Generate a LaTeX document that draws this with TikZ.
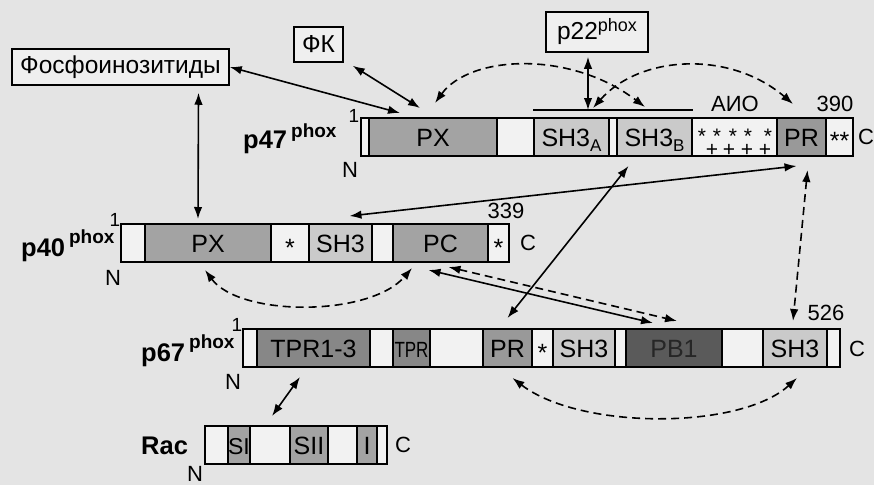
\documentclass[tikz,border=0pt]{standalone}
\usepackage{fontspec}
\setmainfont{Liberation Sans}
\usetikzlibrary{arrows.meta,calc}
\definecolor{bgc}{HTML}{E4E4E4}
\definecolor{wseg}{HTML}{F2F2F2}
\definecolor{boxc}{HTML}{EFEFEF}
\definecolor{gmid}{HTML}{A3A3A3}
\definecolor{glight}{HTML}{CACACA}
\definecolor{gpr}{HTML}{999999}
\definecolor{gdark}{HTML}{878787}
\definecolor{gpb}{HTML}{5A5A5A}
\newcommand\dfont{\fontsize{25}{25}\selectfont}
\newcommand\subf{\fontsize{17}{17}\selectfont}
\tikzset{
  seg/.style={draw, line width=1.3pt, inner sep=0pt, outer sep=0pt, minimum height=38pt,
    anchor=west, font=\dfont, text height=18pt, text depth=0pt},
  wbox/.style={draw, line width=1.5pt, fill=boxc, inner sep=0pt, font=\fontsize{24.5}{24.5}\selectfont},
  lab/.style={inner sep=0pt, anchor=base west, font=\bfseries\fontsize{25.5}{25.5}\selectfont},
  num/.style={inner sep=0pt, font=\fontsize{22}{22}\selectfont},
  one/.style={inner sep=0pt, font=\fontsize{19}{19}\selectfont},
  frame/.style={line width=2pt},
  conn/.style={line width=1.6pt, {Latex[length=12pt,width=8.5pt]}-{Latex[length=12pt,width=8.5pt]}},
  dconn/.style={conn, dash pattern=on 8pt off 5pt}
}
\begin{document}
\begin{tikzpicture}[x=1pt,y=-1pt]
\fill[bgc] (0,0) rectangle (874,485);
\useasboundingbox (0,0) rectangle (874,485);

% boxes
\node[wbox, minimum width=217pt, minimum height=36pt] (phos) at (120.5,67) {Фосфоинозитиды};
\node[wbox, minimum width=49pt, minimum height=35pt] (fk) at (318.5,44.5) {ФК};
\node[wbox, minimum width=102pt, minimum height=40pt] (p22) at (597,32) {p22\raisebox{8pt}{\fontsize{18}{18}\selectfont phox}};

% p47
\node[seg, minimum width=8pt, fill=wseg] (p47a) at (361,137) {};
\node[seg, minimum width=128pt, fill=gmid] (p47px) at (369,137) {PX};
\node[seg, minimum width=37pt, fill=wseg] (p47b) at (497,137) {};
\node[seg, minimum width=75pt, fill=glight] (p47sa) at (534,137) {SH3\raisebox{-5pt}{\subf A}};
\node[seg, minimum width=8pt, fill=wseg] (p47g) at (609,137) {};
\node[seg, minimum width=75pt, fill=glight] (p47sb) at (617,137) {SH3\raisebox{-5pt}{\subf B}};
\node[seg, minimum width=85pt, fill=wseg] (p47aio) at (692,137) {};
\node[seg, minimum width=49pt, fill=gpr] (p47pr) at (777,137) {PR};
\node[seg, minimum width=27pt, fill=wseg] (p47c) at (826,137) {\raisebox{-3pt}{**}};
\draw[frame] (p47a.north west) rectangle (p47c.south east);
\foreach \x [count=\i] in {702,717,733,748,768}
  \node[inner sep=0pt, font=\fontsize{21}{21}\selectfont] (ast\i) at (\x,133) {\raisebox{-6pt}[8pt][0pt]{*}};
\foreach \x [count=\i] in {712,729,747,765}
  \node[inner sep=0pt, font=\fontsize{21}{21}\selectfont] (pl\i) at (\x,150) {+};

% p40
\node[seg, minimum width=24pt, fill=wseg] (p40a) at (121,243) {};
\node[seg, minimum width=126pt, fill=gmid] (p40px) at (145,243) {PX};
\node[seg, minimum width=38pt, fill=wseg] (p40s) at (271,243) {\raisebox{-4pt}{*}};
\node[seg, minimum width=63pt, fill=glight] (p40sh3) at (309,243) {SH3};
\node[seg, minimum width=21pt, fill=wseg] (p40b) at (372,243) {};
\node[seg, minimum width=95pt, fill=gmid] (p40pc) at (393,243) {PC};
\node[seg, minimum width=21pt, fill=wseg] (p40c) at (488,243) {\raisebox{-4pt}{*}};
\draw[frame] (p40a.north west) rectangle (p40c.south east);

% p67
\node[seg, minimum width=14pt, fill=wseg] (p67a) at (243,348) {};
\node[seg, minimum width=113pt, fill=gdark] (p67tpr) at (257,348) {TPR1-3};
\node[seg, minimum width=23pt, fill=wseg] (p67b) at (370,348) {};
\node[seg, minimum width=37pt, fill=gdark] (p67tp) at (393,348) {\scalebox{0.68}[0.88]{TPR}};
\node[seg, minimum width=53pt, fill=wseg] (p67c) at (430,348) {};
\node[seg, minimum width=49pt, fill=gpr] (p67pr) at (483,348) {PR};
\node[seg, minimum width=21pt, fill=wseg] (p67s) at (532,348) {\raisebox{-4pt}{*}};
\node[seg, minimum width=62pt, fill=glight] (p67sh3) at (553,348) {SH3};
\node[seg, minimum width=11pt, fill=wseg] (p67d) at (615,348) {};
\node[seg, minimum width=96pt, fill=gpb, text=black!85] (p67pb) at (626,348) {PB1};
\node[seg, minimum width=41pt, fill=wseg] (p67e) at (722,348) {};
\node[seg, minimum width=64pt, fill=glight] (p67sh3b) at (763,348) {SH3};
\node[seg, minimum width=13pt, fill=wseg] (p67f) at (827,348) {};
\draw[frame] (p67a.north west) rectangle (p67f.south east);

% Rac
\node[seg, minimum width=23pt, fill=wseg] (raca) at (205,445) {};
\node[seg, minimum width=22pt, fill=gmid, font=\fontsize{23}{23}\selectfont] (racsi) at (228,445) {SI};
\node[seg, minimum width=40pt, fill=wseg] (racb) at (250,445) {};
\node[seg, minimum width=38pt, fill=gmid] (racsii) at (290,445) {SII};
\node[seg, minimum width=29pt, fill=wseg] (racc) at (328,445) {};
\node[seg, minimum width=20pt, fill=gmid] (raci) at (357,445) {I};
\node[seg, minimum width=10pt, fill=wseg] (racd) at (377,445) {};
\draw[frame] (raca.north west) rectangle (racd.south east);

% labels
\node[lab] (l47) at (243,148) {p47\hspace{4pt}\raisebox{11pt}{\fontsize{19}{19}\selectfont phox}};
\node[lab] (l40) at (21,256) {p40\hspace{4pt}\raisebox{13pt}{\fontsize{19}{19}\selectfont phox}};
\node[lab] (l67) at (141,361) {p67\hspace{4pt}\raisebox{13pt}{\fontsize{19}{19}\selectfont phox}};
\node[lab] (lrac) at (141,454) {Rac};

\node[one] (o47) at (354,116) {1};
\node[one] (o40) at (115,220) {1};
\node[one] (o67) at (237,325) {1};
\node[num] (n47) at (350,170) {N};
\node[num] (n40) at (113,278) {N};
\node[num] (n67) at (233,382) {N};
\node[num] (nrac) at (195,474) {N};
\node[num] (c47) at (866,137) {C};
\node[num] (c40) at (528,243) {C};
\node[num] (c67) at (857,349) {C};
\node[num] (crac) at (403,445) {C};
\node[num] (t390) at (835,104) {390};
\node[num] (t339) at (506,211) {339};
\node[num] (t526) at (826,313) {526};
\node[num] (taio) at (735,104) {АИО};

% line under p22
\coordinate (hlL) at (533,110);
\coordinate (hlR) at (693,110);
\coordinate (hlA) at (588,110);
\draw[line width=1.5pt] (hlL) -- (hlR);

% connectors
\draw[conn] (phos.east) -- ($(p47px.north west)+(31,-5)$);
\draw[conn] ($(fk.south east)+(9,3)$) -- ($(p47px.north west)+(51,-10)$);
\draw[conn] ($(phos.south)+(78,7)$) -- ($(p40px.north)+(-10,-5)$);
\draw[conn] ($(p47pr.south)+(-5,10)$) -- ($(p40sh3.north)+(9,-8)$);
\draw[conn] ($(p47sb.south)+(-26,10)$) -- ($(p67pr.north)+(0,-11)$);
\draw[conn] ($(p40pc.south)+(-12,8)$) -- ($(p67pb.north)+(-21,-6)$);
\draw[dconn] ($(p40pc.south)+(8,5)$) -- ($(p67pb.north)+(3,-8)$);
\draw[dconn] ($(p40px.south)+(-3,8)$) .. controls (240,317) and (370,317) .. ($(p40pc.south)+(-28.5,6)$);
\draw[dconn] ($(p67pr.south)+(5,11)$) .. controls (580,430) and (740,430) .. ($(p67sh3b.south)+(2,11)$);
\draw[dconn] ($(p47pr.south)+(6,14)$) -- ($(p67sh3b.north)+(-2,-8)$);
\draw[conn] ($(p67tpr.south)+(-13.5,10)$) -- ($(racb.north)+(2,-10)$);
\draw[conn] ($(p22.south)+(-9,4)$) -- (hlA);
\draw[dconn] ($(p47px.north west)+(66,-15)$) .. controls (470,55) and (570,50) .. ($(p47sb.north)+(-9.5,-11)$);
\draw[dconn] ($(p47sa.north)+(21.5,-10)$) .. controls (640,55) and (730,50) .. ($(p47pr.north)+(-8.5,-14)$);
\end{tikzpicture}
\end{document}
